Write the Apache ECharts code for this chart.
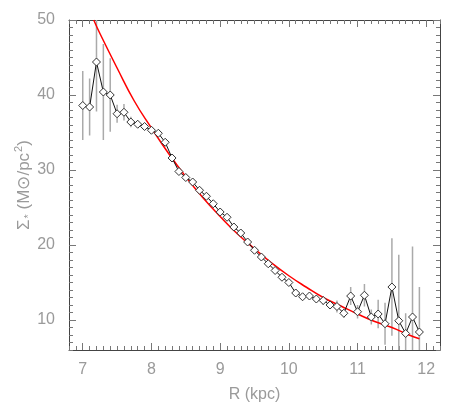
<!DOCTYPE html>
<html lang="en">
<head>
    <meta charset="UTF-8">
    <title>Stellar surface density</title>
    <script src="https://cdn.jsdelivr.net/npm/echarts@6/dist/echarts.min.js"></script>
    <style>
        *{
            margin: 0;
            padding: 0;
        }
        html ,body{
            width: 100%;
            height: 100%;
            overflow: hidden;
            background: #fff;
        }
        .container{
            width: 463px;
            height: 412px;
        }
    </style>
</head>
<body>
<div class="container"></div>
<script>
    // radius of each bin (kpc)
    let radius=[7.0,7.1,7.2,7.3,7.4,7.5,7.6,7.7,7.8,7.9,
        8.0,8.1,8.2,8.3,8.4,8.5,8.6,8.7,8.8,8.9,
        9.0,9.1,9.2,9.3,9.4,9.5,9.6,9.7,9.8,9.9,
        10.0,10.1,10.2,10.3,10.4,10.5,10.6,10.7,10.8,10.9,
        11.0,11.1,11.2,11.3,11.4,11.5,11.6,11.7,11.8,11.9];
    // surface density (Msun/pc^2)
    let sigma=[38.6,38.4,44.4,40.4,40.0,37.5,37.7,36.4,36.1,35.8,
        35.3,34.9,33.7,31.6,29.8,29.0,28.4,27.3,26.5,25.5,
        24.4,23.7,22.4,21.6,20.4,19.3,18.4,17.5,16.6,15.7,
        15.0,13.6,13.1,13.2,12.8,12.6,12.0,11.8,10.9,13.2,
        11.1,13.3,10.4,10.8,9.5,14.4,9.9,8.2,10.4,8.4];
    let sigmaErr=[4.6,3.8,6.6,6.4,4.9,1.2,1.1,0.7,0.5,0.4,
        0.4,0.4,0.4,0.3,0.3,0.3,0.3,0.3,0.3,0.3,
        0.3,0.3,0.3,0.3,0.3,0.3,0.3,0.3,0.3,0.3,
        0.4,0.5,0.4,0.4,0.4,0.6,0.5,0.8,0.6,1.2,
        0.9,1.5,1.0,1.9,2.8,6.5,8.8,2.7,9.4,6.0];
    // red fit curve
    let fitR=[7.16,7.25,7.5,7.75,8.0,8.25,8.5,8.75,9.0,9.25,9.5,9.75,
        10.0,10.25,10.5,10.75,11.0,11.25,11.5,11.75,11.9];
    let fitSigma=[50.0,48.2,43.6,39.2,35.6,32.2,29.1,26.3,23.8,21.5,19.5,17.6,
        15.9,14.4,13.0,11.9,10.8,9.8,9.0,8.0,7.5];
    let xMajor=[7,8,9,10,11,12];
    let yMajor=[10,20,30,40,50];

    let xMinor=[];
    for (let i=68;i<=122;i++){ if(i%10!==0) xMinor.push(i/10); }
    let yMinor=[];
    for (let i=6;i<=50;i++){ if(i%10!==0) yMinor.push(i); }

    let container=document.querySelector('.container');
    let mycharts=echarts.init(container);

    let axisColor='#444';
    let tickColor='#777';
    let labelColor='#9a9a9a';
    let font='Liberation Sans';

    function xAxis(pos,ticks,len,showLine,labels){
        return {
            type:'value', position:pos, min:6.8, max:12.2,
            axisLine:{show:showLine,onZero:false,lineStyle:{color:axisColor,width:1}},
            axisTick:{show:true,inside:true,length:len,customValues:ticks,lineStyle:{color:tickColor}},
            axisLabel:labels?{show:true,customValues:ticks,color:labelColor,fontSize:16,fontFamily:font,margin:12}:{show:false},
            splitLine:{show:false}
        };
    }
    function yAxis(pos,ticks,len,showLine,labels){
        return {
            type:'value', position:pos, min:6, max:50,
            axisLine:{show:showLine,onZero:false,lineStyle:{color:axisColor,width:1}},
            axisTick:{show:true,inside:true,length:len,customValues:ticks,lineStyle:{color:tickColor}},
            axisLabel:labels?{show:true,customValues:ticks,color:labelColor,fontSize:16,fontFamily:font,margin:14}:{show:false},
            splitLine:{show:false}
        };
    }

    let xa=[
        xAxis('bottom',xMajor,7,true,true),
        xAxis('bottom',xMinor,4,false,false),
        xAxis('top',xMajor,7,true,false),
        xAxis('top',xMinor,4,false,false)
    ];
    xa[0].name='R (kpc)';
    xa[0].nameLocation='middle';
    xa[0].nameGap=37;
    xa[0].nameTextStyle={color:labelColor,fontSize:16,fontFamily:font};

    let ya=[
        yAxis('left',yMajor,7,true,true),
        yAxis('left',yMinor,4,false,false),
        yAxis('right',yMajor,7,true,false),
        yAxis('right',yMinor,4,false,false)
    ];

    let points=radius.map((r,i)=>[r,sigma[i]]);
    let bars=radius.map((r,i)=>[r,sigma[i]-sigmaErr[i],sigma[i]+sigmaErr[i]]);
    let fit=fitR.map((r,i)=>[r,fitSigma[i]]);

    let options={
        backgroundColor:'#fff',
        animation:false,
        grid:{left:69,top:20,right:23,bottom:62,containLabel:false},
        xAxis:xa,
        yAxis:ya,
        graphic:[{
            type:'text',
            x:24,
            y:185,
            rotation:Math.PI/2,
            style:{
                text:'{a|Σ}{sub|*}{a| (M⊙/pc}{sup|2}{a|)}',
                align:'center',
                verticalAlign:'middle',
                fill:labelColor,
                font:'17px '+font,
                rich:{
                    a:{fill:labelColor,fontSize:17,fontFamily:font},
                    sub:{fill:labelColor,fontSize:11,fontFamily:font,padding:[10,0,0,1]},
                    sup:{fill:labelColor,fontSize:11,fontFamily:font,padding:[0,0,10,1]}
                }
            }
        }],
        series:[
            {
                type:'custom',
                clip:true,
                data:bars,
                encode:{x:0,y:[1,2]},
                renderItem:function (params,api) {
                    let p1=api.coord([api.value(0),api.value(1)]);
                    let p2=api.coord([api.value(0),api.value(2)]);
                    return {
                        type:'line',
                        shape:{x1:p1[0],y1:p1[1],x2:p2[0],y2:p2[1]},
                        style:{stroke:'#aaaaaa',lineWidth:1.5}
                    };
                },
                z:1
            },
            {
                type:'line',
                data:fit,
                smooth:true,
                showSymbol:false,
                lineStyle:{color:'#ff0000',width:1.5},
                z:2
            },
            {
                type:'line',
                data:points,
                symbol:'diamond',
                symbolSize:8,
                lineStyle:{color:'#111',width:1},
                itemStyle:{color:'#fff',borderColor:'#333',borderWidth:1},
                z:3
            }
        ]
    };

    mycharts.setOption(options)
</script>
</body>
</html>
